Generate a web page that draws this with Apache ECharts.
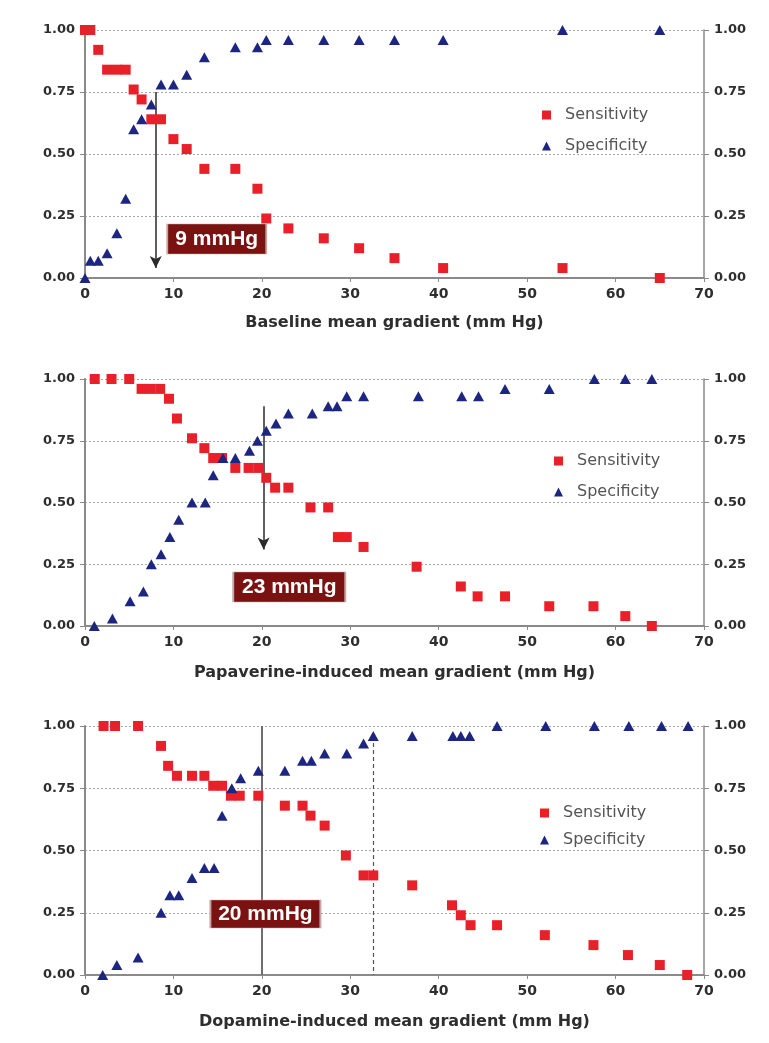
<!DOCTYPE html>
<html>
<head>
<meta charset="utf-8">
<script src="https://cdn.jsdelivr.net/npm/echarts@6/dist/echarts.min.js"></script>
<style>
  html, body { margin: 0; padding: 0; background: #ffffff; }
  #chart { width: 769px; height: 1043px; }
</style>
</head>
<body>
<div id="chart"></div>
<script>
// ---- data: [mean gradient (mm Hg), value] ----
const baselineSensitivity = [
  [0, 1.00], [0.6, 1.00], [1.5, 0.92], [2.5, 0.84], [3.6, 0.84], [4.6, 0.84],
  [5.5, 0.76], [6.4, 0.72], [7.5, 0.64], [8.6, 0.64], [10, 0.56], [11.5, 0.52],
  [13.5, 0.44], [17, 0.44], [19.5, 0.36], [20.5, 0.24], [23, 0.20], [27, 0.16],
  [31, 0.12], [35, 0.08], [40.5, 0.04], [54, 0.04], [65, 0.00]
];
const baselineSpecificity = [
  [0, 0.00], [0.6, 0.07], [1.5, 0.07], [2.5, 0.10], [3.6, 0.18], [4.6, 0.32],
  [5.5, 0.60], [6.4, 0.64], [7.5, 0.70], [8.6, 0.78], [10, 0.78], [11.5, 0.82],
  [13.5, 0.89], [17, 0.93], [19.5, 0.93], [20.5, 0.96], [23, 0.96], [27, 0.96],
  [31, 0.96], [35, 0.96], [40.5, 0.96], [54, 1.00], [65, 1.00]
];
const papaverineSensitivity = [
  [1.1, 1.00], [3, 1.00], [5, 1.00], [6.4, 0.96], [7.4, 0.96], [8.5, 0.96],
  [9.5, 0.92], [10.4, 0.84], [12.1, 0.76], [13.5, 0.72], [14.5, 0.68], [15.5, 0.68],
  [17, 0.64], [18.5, 0.64], [19.6, 0.64], [20.5, 0.60], [21.5, 0.56], [23, 0.56],
  [25.5, 0.48], [27.5, 0.48], [28.6, 0.36], [29.6, 0.36], [31.5, 0.32], [37.5, 0.24],
  [42.5, 0.16], [44.4, 0.12], [47.5, 0.12], [52.5, 0.08], [57.5, 0.08], [61.1, 0.04],
  [64.1, 0.00]
];
const papaverineSpecificity = [
  [1.05, 0.00], [3.1, 0.03], [5.1, 0.10], [6.6, 0.14], [7.5, 0.25], [8.6, 0.29],
  [9.6, 0.36], [10.6, 0.43], [12.1, 0.50], [13.6, 0.50], [14.5, 0.61], [15.6, 0.68],
  [17, 0.68], [18.6, 0.71], [19.5, 0.75], [20.5, 0.79], [21.6, 0.82], [23, 0.86],
  [25.7, 0.86], [27.5, 0.89], [28.5, 0.89], [29.6, 0.93], [31.5, 0.93], [37.7, 0.93],
  [42.6, 0.93], [44.5, 0.93], [47.5, 0.96], [52.5, 0.96], [57.6, 1.00], [61.1, 1.00],
  [64.1, 1.00]
];
const dopamineSensitivity = [
  [2.1, 1.00], [3.4, 1.00], [6, 1.00], [8.6, 0.92], [9.4, 0.84], [10.4, 0.80],
  [12.1, 0.80], [13.5, 0.80], [14.5, 0.76], [15.5, 0.76], [16.5, 0.72], [17.5, 0.72],
  [19.6, 0.72], [22.6, 0.68], [24.6, 0.68], [25.5, 0.64], [27.1, 0.60], [29.5, 0.48],
  [31.5, 0.40], [32.6, 0.40], [37, 0.36], [41.5, 0.28], [42.5, 0.24], [43.6, 0.20],
  [46.6, 0.20], [52, 0.16], [57.5, 0.12], [61.4, 0.08], [65, 0.04], [68.1, 0.00]
];
const dopamineSpecificity = [
  [2, 0.00], [3.6, 0.04], [6, 0.07], [8.6, 0.25], [9.6, 0.32], [10.6, 0.32],
  [12.1, 0.39], [13.5, 0.43], [14.6, 0.43], [15.5, 0.64], [16.6, 0.75], [17.6, 0.79],
  [19.6, 0.82], [22.6, 0.82], [24.6, 0.86], [25.6, 0.86], [27.1, 0.89], [29.6, 0.89],
  [31.5, 0.93], [32.6, 0.96], [37, 0.96], [41.6, 0.96], [42.5, 0.96], [43.5, 0.96],
  [46.6, 1.00], [52.1, 1.00], [57.6, 1.00], [61.5, 1.00], [65.2, 1.00], [68.2, 1.00]
];

const seriesNames = ['Sensitivity', 'Specificity'];
const xAxisTitles = [
  'Baseline mean gradient (mm Hg)',
  'Papaverine-induced mean gradient (mm Hg)',
  'Dopamine-induced mean gradient (mm Hg)'
];
const xRange = [0, 70];
const xStep = 10;
const yRange = [0, 1];
const yStep = 0.25;

// cut-off annotations: label text and its anchor [x, y]
const cutoffLabels = ['9 mmHg', '23 mmHg', '20 mmHg'];
const cutoffLabelAnchors = [[14.9, 0.157], [23.1, 0.158], [20.4, 0.245]];
// vertical guide lines: [x, yFrom, yTo]
const baselineArrow = [8, 0.75, 0.04];
const papaverineArrow = [20.2, 0.89, 0.31];
const dopamineCutLine = [20, 0, 1];
const dopamineDashedLine = [32.6, 0.96, 0];

// ---- layout & style ----
const grids = [
  { left: 85, right: 65, top: 30, height: 248 },
  { left: 85, right: 65, top: 379, height: 247 },
  { left: 85, right: 65, top: 726, height: 249 }
];
const nameGaps = [37, 39, 39];
const legendPos = [
  { left: 537, top: 101, itemGap: 13 },
  { left: 549, top: 447, itemGap: 13 },
  { left: 535, top: 799, itemGap: 9 }
];
const boxSizes = [[99, 30], [112, 30], [110, 28]];

const RED = '#e82029';
const NAVY = '#1c2680';
const AXIS_GREY = '#8a8a8a';
const TEXT_DARK = '#2e2e2e';
const labelFont = 'DejaVu Sans';

const xAxes = [], yAxes = [], series = [], legends = [];

grids.forEach((g, i) => {
  xAxes.push({
    gridIndex: i, type: 'value', min: xRange[0], max: xRange[1], interval: xStep,
    name: xAxisTitles[i], nameLocation: 'middle', nameGap: nameGaps[i],
    nameTextStyle: { fontFamily: labelFont, fontWeight: 'bold', fontSize: 16, color: TEXT_DARK },
    axisLine: { show: true, onZero: false, lineStyle: { color: AXIS_GREY, width: 2 } },
    axisTick: { show: true, length: 4, lineStyle: { color: AXIS_GREY } },
    axisLabel: { fontFamily: labelFont, fontWeight: 'bold', fontSize: 14, color: TEXT_DARK, margin: 9 },
    splitLine: { show: false }
  });
  const yCommon = {
    gridIndex: i, type: 'value', min: yRange[0], max: yRange[1], interval: yStep,
    axisTick: { show: true, length: 5, lineStyle: { color: AXIS_GREY } },
    axisLabel: {
      fontFamily: labelFont, fontWeight: 'bold', fontSize: 13, color: TEXT_DARK, margin: 10,
      formatter: v => v.toFixed(2)
    }
  };
  yAxes.push(Object.assign({}, yCommon, {
    position: 'left',
    axisLine: { show: true, onZero: false, lineStyle: { color: AXIS_GREY, width: 2 } },
    splitLine: { show: true, lineStyle: { color: '#a8a8a8', width: 1, type: [2, 2] } }
  }));
  yAxes.push(Object.assign({}, yCommon, {
    position: 'right',
    axisLine: { show: true, onZero: false, lineStyle: { color: AXIS_GREY, width: 1.5 } },
    splitLine: { show: false }
  }));
  legends.push({
    left: legendPos[i].left, top: legendPos[i].top, orient: 'vertical',
    itemGap: legendPos[i].itemGap, itemWidth: 9, itemHeight: 9,
    selectedMode: false,
    textStyle: { fontFamily: labelFont, fontSize: 16, color: '#555555', lineHeight: 18, padding: [0, 0, 0, 9] },
    data: [
      { name: seriesNames[0], icon: 'rect', itemStyle: { color: RED, opacity: 1 } },
      { name: seriesNames[1], icon: 'triangle', itemStyle: { color: NAVY, opacity: 1 } }
    ]
  });
});

const panelData = [
  [baselineSensitivity, baselineSpecificity],
  [papaverineSensitivity, papaverineSpecificity],
  [dopamineSensitivity, dopamineSpecificity]
];

function vLine(spec, style) {
  return [{ coord: [spec[0], spec[1]], lineStyle: style }, { coord: [spec[0], spec[2]] }];
}
const arrowStyle = { color: '#2a2a2a', width: 1.5, type: 'solid' };
const guideLines = [
  { symbol: ['none', 'arrow'], data: [vLine(baselineArrow, arrowStyle)] },
  { symbol: ['none', 'arrow'], data: [vLine(papaverineArrow, arrowStyle)] },
  { symbol: ['none', 'none'], data: [
      vLine(dopamineCutLine, { color: '#6e6e6e', width: 2, type: 'solid' }),
      vLine(dopamineDashedLine, { color: '#555555', width: 1.2, type: [4, 3] })
  ] }
];

panelData.forEach((pair, i) => {
  series.push({
    name: seriesNames[0], type: 'scatter', xAxisIndex: i, yAxisIndex: 2 * i,
    symbol: 'rect', symbolSize: 10, itemStyle: { color: RED, opacity: 1 }, z: 3,
    data: pair[0],
    markLine: {
      silent: true, symbolSize: [9, 12], label: { show: false },
      symbol: guideLines[i].symbol, data: guideLines[i].data, z: 2
    }
  });
  series.push({
    name: seriesNames[1], type: 'scatter', xAxisIndex: i, yAxisIndex: 2 * i,
    symbol: 'triangle', symbolSize: [11, 10], itemStyle: { color: NAVY, opacity: 1 }, z: 4,
    data: pair[1],
    markPoint: {
      silent: true, z: 6,
      data: [{
        coord: cutoffLabelAnchors[i], symbol: 'rect', symbolSize: boxSizes[i],
        itemStyle: { color: '#7a1212', borderColor: '#c8a4a4', borderWidth: 1, opacity: 1 },
        label: {
          show: true, position: 'inside', formatter: cutoffLabels[i],
          color: '#ffffff', fontFamily: 'Liberation Sans', fontWeight: 'bold', fontSize: 21
        }
      }]
    }
  });
});

const chart = echarts.init(document.getElementById('chart'), null, { renderer: 'canvas' });
chart.setOption({
  backgroundColor: '#ffffff',
  animation: false,
  grid: grids,
  xAxis: xAxes,
  yAxis: yAxes,
  legend: legends,
  series: series
});
</script>
</body>
</html>
